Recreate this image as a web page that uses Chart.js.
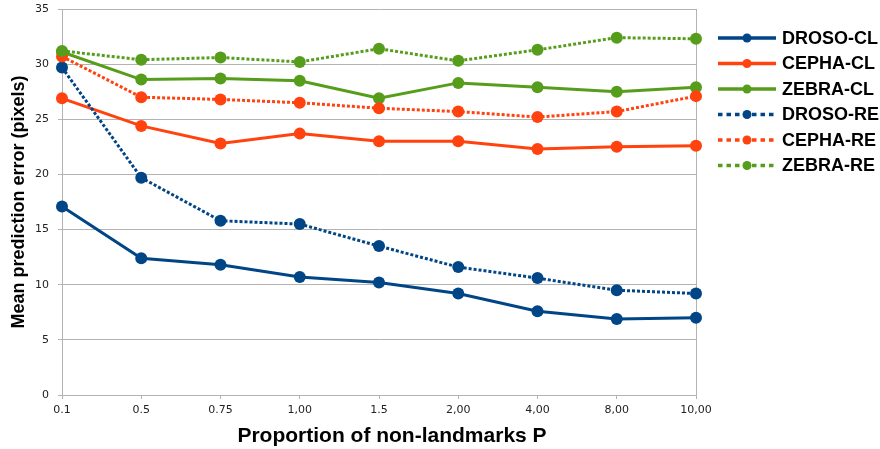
<!DOCTYPE html>
<html>
<head>
<meta charset="utf-8">
<script src="https://cdn.jsdelivr.net/npm/chart.js@4.4.1/dist/chart.umd.min.js"></script>
<style>
  html, body { margin: 0; padding: 0; background: #fff; }
  #wrap { width: 880px; height: 449px; position: relative; }
</style>
</head>
<body>
<div id="wrap"><canvas id="c" width="880" height="449"></canvas></div>
<script>
// Proportion of non-landmarks P (category labels as printed)
const categories = ['0.1', '0.5', '0.75', '1,00', '1.5', '2,00', '4,00', '8,00', '10,00'];

// Mean prediction error (pixels) per data set and method
const drosoCL = [17.1, 12.4, 11.8, 10.7, 10.2, 9.2, 7.6, 6.9, 7.0];
const cephaCL = [26.9, 24.4, 22.8, 23.7, 23.0, 23.0, 22.3, 22.5, 22.6];
const zebraCL = [31.1, 28.6, 28.7, 28.5, 26.9, 28.3, 27.9, 27.5, 27.9];
const drosoRE = [29.7, 19.7, 15.8, 15.5, 13.5, 11.6, 10.6, 9.5, 9.2];
const cephaRE = [30.7, 27.0, 26.8, 26.5, 26.0, 25.7, 25.2, 25.7, 27.1];
const zebraRE = [31.2, 30.4, 30.6, 30.2, 31.4, 30.3, 31.3, 32.4, 32.3];

const seriesNames = ['DROSO-CL', 'CEPHA-CL', 'ZEBRA-CL', 'DROSO-RE', 'CEPHA-RE', 'ZEBRA-RE'];
const yMin = 0, yMax = 35, yStep = 5;

const BLUE = '#004586', ORANGE = '#ff420e', GREEN = '#579d1c';
const GRID = '#b3b3b3';

function series(label, data, color, dotted, order) {
  return {
    label, data,
    borderColor: color,
    backgroundColor: color,
    borderWidth: 3,
    borderDash: dotted ? [3, 2] : [],
    pointRadius: 6,
    pointBackgroundColor: color,
    pointBorderWidth: 0,
    tension: 0,
    order,
    clip: false
  };
}

// Key at the right: a line sample with a dot, then the series name
const seriesKey = {
  id: 'seriesKey',
  afterDraw(chart) {
    const ctx = chart.ctx;
    const x0 = 718, x1 = 776, textX = 782, y0 = 38, step = 25.5;
    ctx.save();
    chart.data.datasets.forEach((ds, i) => {
      const y = y0 + i * step;
      ctx.strokeStyle = ds.borderColor;
      ctx.lineWidth = 3.5;
      ctx.setLineDash(ds.borderDash.length ? [4.5, 4] : []);
      ctx.beginPath();
      ctx.moveTo(x0, y);
      ctx.lineTo(x1, y);
      ctx.stroke();
      ctx.setLineDash([]);
      ctx.fillStyle = ds.borderColor;
      ctx.beginPath();
      ctx.arc((x0 + x1) / 2, y, 4.5, 0, Math.PI * 2);
      ctx.fill();
      ctx.fillStyle = '#000';
      ctx.font = 'bold 18px "Liberation Sans", Arial, sans-serif';
      ctx.textBaseline = 'middle';
      ctx.textAlign = 'left';
      ctx.fillText(ds.label, textX, y + 1);
    });
    ctx.restore();
  }
};

// Horizontal axis caption
const xCaption = {
  id: 'xCaption',
  afterDraw(chart, args, opts) {
    const ctx = chart.ctx;
    ctx.save();
    ctx.fillStyle = '#000';
    ctx.font = 'bold 21px "Liberation Sans", Arial, sans-serif';
    ctx.textAlign = 'center';
    ctx.textBaseline = 'alphabetic';
    ctx.fillText(opts.text, opts.x, opts.y);
    ctx.restore();
  }
};

const tickFont = { family: '"DejaVu Sans", sans-serif', size: 11 };

new Chart(document.getElementById('c'), {
  type: 'line',
  data: {
    labels: categories,
    datasets: [
      series(seriesNames[0], drosoCL, BLUE, false, 6),
      series(seriesNames[1], cephaCL, ORANGE, false, 5),
      series(seriesNames[2], zebraCL, GREEN, false, 4),
      series(seriesNames[3], drosoRE, BLUE, true, 3),
      series(seriesNames[4], cephaRE, ORANGE, true, 2),
      series(seriesNames[5], zebraRE, GREEN, true, 1)
    ]
  },
  options: {
    responsive: false,
    devicePixelRatio: 1,
    animation: false,
    layout: { padding: { top: 9, right: 184, bottom: 0, left: 0 } },
    plugins: {
      legend: { display: false },
      tooltip: { enabled: false },
      xCaption: { text: 'Proportion of non-landmarks P', x: 392, y: 442 }
    },
    scales: {
      x: {
        type: 'category',
        offset: false,
        afterFit(scale) {
          scale.height = 54;
          scale.paddingLeft = 0;
          scale.paddingRight = 0;
        },
        grid: {
          offset: false,
          color: (c) => c.index === categories.length - 1 ? GRID : 'rgba(0,0,0,0)',
          tickColor: GRID,
          tickLength: 4,
          lineWidth: 1
        },
        border: { color: GRID, width: 1 },
        ticks: {
          font: tickFont, color: '#222', padding: 5,
          maxRotation: 0, autoSkip: false
        }
      },
      y: {
        min: yMin, max: yMax,
        afterFit(scale) {
          scale.width = 62;
          scale.paddingTop = 0;
          scale.paddingBottom = 0;
        },
        grid: { color: GRID, tickColor: GRID, tickLength: 4, lineWidth: 1 },
        border: { color: GRID, width: 1 },
        ticks: { stepSize: yStep, font: tickFont, color: '#222', padding: 9 },
        title: {
          display: true,
          text: 'Mean prediction error (pixels)',
          color: '#000',
          font: { family: '"Liberation Sans", Arial, sans-serif', size: 18, weight: 'bold' },
          padding: { top: 8, bottom: 0 }
        }
      }
    }
  },
  plugins: [seriesKey, xCaption]
});
</script>
</body>
</html>
